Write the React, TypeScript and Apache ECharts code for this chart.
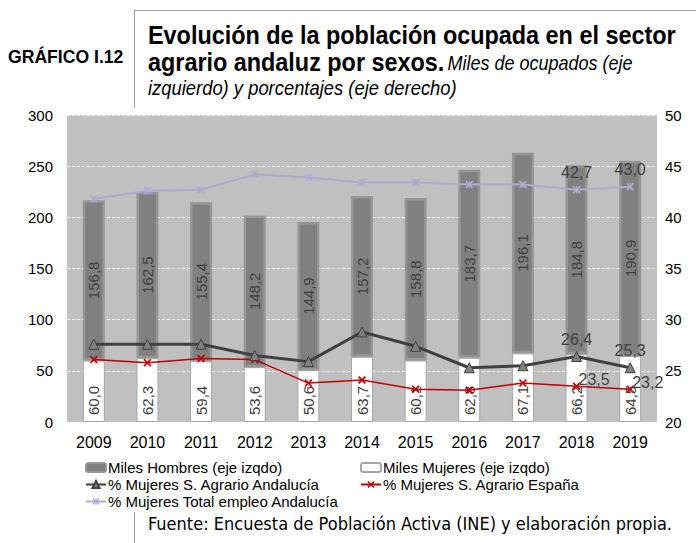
import React, { useEffect, useRef } from "react";
import * as echarts from "echarts";

const years = ["2009", "2010", "2011", "2012", "2013", "2014", "2015", "2016", "2017", "2018", "2019"];
const hombres = [156.8, 162.5, 155.4, 148.2, 144.9, 157.2, 158.8, 183.7, 196.1, 184.8, 190.9];
const mujeres = [60.0, 62.3, 59.4, 53.6, 50.6, 63.7, 60.1, 62.8, 67.1, 66.2, 64.5];
const pctAgrarioAnd = [27.6, 27.6, 27.6, 26.5, 25.9, 28.8, 27.4, 25.3, 25.5, 26.4, 25.3];
const pctAgrarioEsp = [26.1, 25.8, 26.2, 26.1, 23.8, 24.1, 23.2, 23.1, 23.8, 23.5, 23.2];
const pctTotalAnd = [41.8, 42.6, 42.7, 44.2, 43.9, 43.4, 43.4, 43.2, 43.2, 42.7, 43.0];

const FONT = "'Liberation Sans', Arial, sans-serif";
const fmt = (v: number) => v.toFixed(1).replace(".", ",");

const X_PATH = "path://M0,1.5L1.5,0L5,3.5L8.5,0L10,1.5L6.5,5L10,8.5L8.5,10L5,6.5L1.5,10L0,8.5L3.5,5Z";
const STAR_PATH =
  "path://M0,1.5L1.5,0L5,3.5L8.5,0L10,1.5L6.5,5L10,8.5L8.5,10L5,6.5L1.5,10L0,8.5L3.5,5Z M4.4,0L5.6,0L5.6,10L4.4,10Z";

export default function App() {
  const ref = useRef<HTMLDivElement>(null);
  useEffect(() => {
    const chart = echarts.init(ref.current!, undefined, { renderer: "svg" });
    const lastLabels = (arr: number[], lbl: any) =>
      arr.map((v, i) => (i >= arr.length - 2 ? { value: v, label: { show: true, ...lbl } } : v));
    const lineLabelStyle = {
      fontSize: 16,
      color: "#404040",
      fontFamily: FONT,
      formatter: (p: any) => fmt(p.value),
    };
    const legendText = { fontSize: 15, fontFamily: FONT, color: "#000", padding: [0, 0, 0, -3] };
    chart.setOption({
      animation: false,
      backgroundColor: "#ffffff",
      grid: { left: 67, right: 39, top: 115, bottom: 121, show: true, backgroundColor: "#c0c0c0", borderWidth: 0 },
      legend: [
        {
          left: 80,
          top: 455,
          orient: "vertical",
          itemWidth: 20,
          itemHeight: 9,
          itemGap: 2,
          textStyle: legendText,
          data: ["Miles Hombres (eje izqdo)", "% Mujeres S. Agrario Andalucía", "% Mujeres Total empleo Andalucía"],
        },
        {
          left: 355,
          top: 455,
          orient: "vertical",
          itemWidth: 20,
          itemHeight: 9,
          itemGap: 2,
          textStyle: legendText,
          data: ["Miles Mujeres (eje izqdo)", "% Mujeres S. Agrario España"],
        },
      ],
      xAxis: {
        type: "category",
        data: years,
        axisLine: { show: false },
        axisTick: { show: false },
        axisLabel: { fontSize: 16, color: "#000", fontFamily: FONT, margin: 12 },
      },
      yAxis: [
        {
          type: "value",
          min: 0,
          max: 300,
          interval: 50,
          axisLine: { show: false },
          axisTick: { show: false },
          axisLabel: { fontSize: 15, color: "#000", fontFamily: FONT, margin: 14 },
          splitLine: { show: true, lineStyle: { color: "#ffffff", type: [3, 2], width: 1 } },
        },
        {
          type: "value",
          min: 20,
          max: 50,
          interval: 5,
          axisLine: { show: false },
          axisTick: { show: false },
          axisLabel: { fontSize: 15, color: "#000", fontFamily: FONT, margin: 8 },
          splitLine: { show: false },
        },
      ],
      series: [
        {
          name: "Miles Mujeres (eje izqdo)",
          type: "bar",
          stack: "t",
          barWidth: 22,
          data: mujeres,
          itemStyle: { color: "#ffffff", borderColor: "#a6a6a6", borderWidth: 1 },
          label: {
            show: true,
            position: "insideBottom",
            rotate: 90,
            align: "left",
            verticalAlign: "middle",
            distance: 7,
            fontSize: 15,
            color: "#404040",
            fontFamily: FONT,
            formatter: (p: any) => fmt(p.value),
          },
          z: 2,
        },
        {
          name: "Miles Hombres (eje izqdo)",
          type: "bar",
          stack: "t",
          barWidth: 22,
          data: hombres,
          itemStyle: { color: "#808080", borderColor: "#969696", borderWidth: 2.5 },
          label: {
            show: true,
            position: "inside",
            rotate: 90,
            fontSize: 15,
            color: "#404040",
            fontFamily: FONT,
            formatter: (p: any) => fmt(p.value),
          },
          z: 2,
        },
        {
          name: "% Mujeres S. Agrario Andalucía",
          type: "line",
          yAxisIndex: 1,
          data: lastLabels(pctAgrarioAnd, { position: "top", distance: 4 }),
          symbol: "triangle",
          symbolSize: 10,
          lineStyle: { color: "#404040", width: 3 },
          itemStyle: { color: "#808080", borderColor: "#404040", borderWidth: 1 },
          label: { show: false, ...lineLabelStyle },
          z: 5,
        },
        {
          name: "% Mujeres S. Agrario España",
          type: "line",
          yAxisIndex: 1,
          data: lastLabels(pctAgrarioEsp, { position: "right", distance: 0, offset: [-2, -7] }),
          symbol: X_PATH,
          symbolSize: 8,
          lineStyle: { color: "#c00000", width: 1.5 },
          itemStyle: { color: "#c00000" },
          label: { show: false, ...lineLabelStyle },
          z: 4,
        },
        {
          name: "% Mujeres Total empleo Andalucía",
          type: "line",
          yAxisIndex: 1,
          data: lastLabels(pctTotalAnd, { position: "top", distance: 5 }),
          symbol: STAR_PATH,
          symbolSize: 8,
          lineStyle: { color: "#ababd0", width: 2 },
          itemStyle: { color: "#ababd0" },
          label: { show: false, ...lineLabelStyle },
          z: 4,
        },
      ],
      graphic: [
        { type: "line", shape: { x1: 134.5, y1: 10.5, x2: 696, y2: 10.5 }, style: { stroke: "#a0a0a0", lineWidth: 1 } },
        { type: "line", shape: { x1: 134.5, y1: 10, x2: 134.5, y2: 108 }, style: { stroke: "#a0a0a0", lineWidth: 1 } },
        { type: "line", shape: { x1: 134.5, y1: 512, x2: 134.5, y2: 543 }, style: { stroke: "#a0a0a0", lineWidth: 1 } },
        {
          type: "text",
          x: 8,
          y: 57,
          style: { text: "GRÁFICO I.12", font: `bold 17.6px ${FONT}`, fill: "#000", verticalAlign: "middle" },
        },
        {
          type: "text",
          x: 148,
          y: 22,
          scaleX: 0.9,
          style: {
            text: "Evolución de la población ocupada en el sector",
            font: `bold 26px ${FONT}`,
            fill: "#000",
            verticalAlign: "top",
          },
        },
        {
          type: "text",
          x: 148,
          y: 49,
          scaleX: 0.9,
          style: {
            text: "{b|agrario andaluz por sexos.} {i|Miles de ocupados (eje}",
            verticalAlign: "top",
            rich: {
              b: { font: `bold 26px ${FONT}`, fill: "#000" },
              i: { font: `italic 20px ${FONT}`, fill: "#000", padding: [3, 0, 0, 0] },
            },
          },
        },
        {
          type: "text",
          x: 148,
          y: 78,
          scaleX: 0.92,
          style: {
            text: "izquierdo) y porcentajes (eje derecho)",
            font: `italic 20px ${FONT}`,
            fill: "#000",
            verticalAlign: "top",
          },
        },
        {
          type: "text",
          x: 148,
          y: 523,
          style: {
            text: "Fuente: Encuesta de Población Activa (INE) y elaboración propia.",
            font: `18px 'DejaVu Sans Condensed', sans-serif`,
            fill: "#000",
            verticalAlign: "middle",
          },
        },
      ],
    });
    return () => chart.dispose();
  }, []);
  return <div ref={ref} style={{ width: 696, height: 543, position: "absolute", left: 0, top: 0 }} />;
}
